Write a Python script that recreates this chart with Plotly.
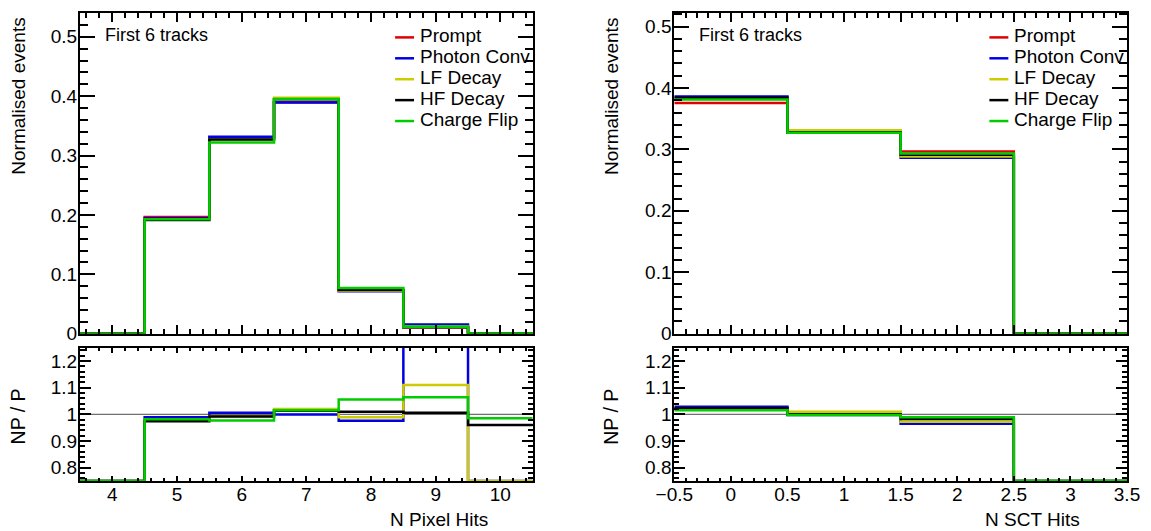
import numpy as np
import plotly.graph_objects as go

# ---- data -----------------------------------------------------------------
series_names = ["Prompt", "Photon Conv", "LF Decay", "HF Decay", "Charge Flip"]
series_colors = ["#e00000", "#0000e0", "#cccc00", "#000000", "#00cc00"]

# N Pixel Hits (bin centres) and normalised yields per category
pixel_hits = [4, 5, 6, 7, 8, 9, 10]
pixel_prompt = [0.0, 0.1965, 0.3295, 0.3895, 0.0730, 0.0107, 0.0004]
pixel_photon_conv = [0.0, 0.1943, 0.3315, 0.3891, 0.0712, 0.0155, 0.0]
pixel_lf_decay = [0.0, 0.1924, 0.3272, 0.3973, 0.0722, 0.01187, 0.0]
pixel_hf_decay = [0.0, 0.1914, 0.3269, 0.3946, 0.07366, 0.01076, 0.000384]
pixel_charge_flip = [0.0, 0.1928, 0.3219, 0.3953, 0.07702, 0.01138, 0.000394]

# N SCT Hits (bin centres) and normalised yields per category
sct_hits = [0, 1, 2, 3]
sct_prompt = [0.3755, 0.3280, 0.2967, 0.0]
sct_photon_conv = [0.3860, 0.3270, 0.2863, 0.0]
sct_lf_decay = [0.3823, 0.3310, 0.2884, 0.0]
sct_hf_decay = [0.3841, 0.3280, 0.2914, 0.0]
sct_charge_flip = [0.3811, 0.3270, 0.2934, 0.0]

pixel_series = [pixel_prompt, pixel_photon_conv, pixel_lf_decay,
                pixel_hf_decay, pixel_charge_flip]
sct_series = [sct_prompt, sct_photon_conv, sct_lf_decay,
              sct_hf_decay, sct_charge_flip]

label_text = "First 6 tracks"
ratio_range = [0.75, 1.25]

# ---- helpers --------------------------------------------------------------
FONT = "Liberation Sans, Arial, Helvetica, sans-serif"
W, H = 1151, 531
ML, MR, MT, MB = 80, 21, 11, 50
PW, PH = W - ML - MR, H - MT - MB  # plotting region in px


def px_x(px):
    return (px - ML) / PW


def px_y(py):
    return (H - MB - py) / PH


def step_xy(centres, values):
    c = np.asarray(centres, dtype=float)
    edges = np.append(c - 0.5, c[-1] + 0.5)
    vals = list(values) + [values[-1]]
    return edges, vals


def ratio_of(num, den):
    num = np.asarray(num, dtype=float)
    den = np.asarray(den, dtype=float)
    r = np.divide(num, den, out=np.zeros_like(num), where=den > 0)
    # empty bins sit on the lower frame edge
    return np.clip(r, ratio_range[0], None)


fig = go.Figure()

panels = [
    dict(centres=pixel_hits, series=pixel_series, xa="x", ya="y", rxa="x3", rya="y3"),
    dict(centres=sct_hits, series=sct_series, xa="x2", ya="y2", rxa="x4", rya="y4"),
]

for p in panels:
    # reference line at unity in the ratio pad
    fig.add_shape(type="line", xref=f"{p['rxa']} domain", yref=p["rya"],
                  x0=0, x1=1, y0=1, y1=1, layer="below",
                  line=dict(color="#707070", width=1.3))
    for name, color, vals in zip(series_names, series_colors, p["series"]):
        xs, ys = step_xy(p["centres"], vals)
        fig.add_trace(go.Scatter(x=xs, y=ys, mode="lines", line_shape="hv",
                                 line=dict(color=color, width=2.5),
                                 xaxis=p["xa"], yaxis=p["ya"], name=name,
                                 showlegend=False, hoverinfo="skip"))
    prompt = p["series"][0]
    for name, color, vals in list(zip(series_names, series_colors, p["series"]))[1:]:
        xs, ys = step_xy(p["centres"], list(ratio_of(vals, prompt)))
        fig.add_trace(go.Scatter(x=xs, y=ys, mode="lines", line_shape="hv",
                                 line=dict(color=color, width=2.5),
                                 xaxis=p["rxa"], yaxis=p["rya"], name=name,
                                 showlegend=False, hoverinfo="skip"))

# ---- axes -----------------------------------------------------------------
left_dom = [0, px_x(534)]
right_dom = [px_x(676), 1]
top_dom = [px_y(333), 1]
ratio_dom = [0, px_y(347)]

common = dict(showline=True, linecolor="black", linewidth=2, mirror="ticks",
              ticks="inside", tickcolor="black", tickwidth=2,
              showgrid=False, zeroline=False,
              tickfont=dict(family=FONT, size=19, color="black"))


def xax(dom, anchor, rng, dtick, minor, showlabels, ticklen, minorlen, tick0=0):
    return dict(common, domain=dom, anchor=anchor, range=rng, tick0=tick0,
                dtick=dtick, showticklabels=showlabels, ticklen=ticklen,
                ticklabelstandoff=-5,
                minor=dict(dtick=minor, ticks="inside", ticklen=minorlen,
                           tickcolor="black", tickwidth=2, showgrid=False))


def yax(dom, anchor, rng, dtick, minor, ticklen, minorlen):
    return dict(common, domain=dom, anchor=anchor, range=rng, tick0=0,
                dtick=dtick, ticklen=ticklen, ticklabelstandoff=-3,
                minor=dict(dtick=minor, ticks="inside", ticklen=minorlen,
                           tickcolor="black", tickwidth=2, showgrid=False))


fig.update_layout(
    xaxis=xax(left_dom, "y", [3.5, 10.5], 1, 0.2, False, 9, 5),
    yaxis=yax(top_dom, "x", [0, 0.54], 0.1, 0.02, 15, 8),
    xaxis2=xax(right_dom, "y2", [-0.5, 3.5], 0.5, 0.1, False, 9, 5, tick0=-0.5),
    yaxis2=yax(top_dom, "x2", [0, 0.522], 0.1, 0.02, 15, 8),
    xaxis3=xax(left_dom, "y3", [3.5, 10.5], 1, 0.2, True, 5, 3),
    yaxis3=yax(ratio_dom, "x3", ratio_range, 0.1, 0.02, 11, 5),
    xaxis4=xax(right_dom, "y4", [-0.5, 3.5], 0.5, 0.1, True, 5, 3, tick0=-0.5),
    yaxis4=yax(ratio_dom, "x4", ratio_range, 0.1, 0.02, 11, 5),
)

# ---- text, legends --------------------------------------------------------
ann = []
shapes_extra = []
legend_rows = [35.5, 56.5, 77.5, 98.5, 119.5]

for xa, ya, xt_left, xtitle, xtitle_right in [
    ("x", "y", 18, "N Pixel Hits", 491),
    ("x2", "y2", 613, "N SCT Hits", 1085),
]:
    dom_l = left_dom[0] if xa == "x" else right_dom[0]
    frame_left = ML + dom_l * PW
    ann.append(dict(text=label_text, xref="paper", yref="paper",
                    x=px_x(frame_left + 23), y=px_y(33), xanchor="left",
                    yanchor="middle", showarrow=False,
                    font=dict(family=FONT, size=18, color="black")))
    for row, name, color in zip(legend_rows, series_names, series_colors):
        shapes_extra.append(dict(type="line", xref="paper", yref="paper",
                                 x0=px_x(frame_left + 316), x1=px_x(frame_left + 335),
                                 y0=px_y(row), y1=px_y(row),
                                 line=dict(color=color, width=2.5)))
        ann.append(dict(text=name, xref="paper", yref="paper",
                        x=px_x(frame_left + 339), y=px_y(row - 1.5),
                        xanchor="left", yanchor="middle", showarrow=False,
                        font=dict(family=FONT, size=19, color="black")))
    ann.append(dict(text="Normalised events", xref="paper", yref="paper",
                    x=px_x(xt_left), y=px_y(14), xanchor="center", yanchor="top",
                    textangle=-90, showarrow=False,
                    font=dict(family=FONT, size=19, color="black")))
    ann.append(dict(text="NP / P", xref="paper", yref="paper",
                    x=px_x(xt_left), y=px_y(416), xanchor="center",
                    yanchor="middle", textangle=-90, showarrow=False,
                    font=dict(family=FONT, size=19.5, color="black")))
    ann.append(dict(text=xtitle, xref="paper", yref="paper",
                    x=px_x(xtitle_right), y=px_y(520), xanchor="right",
                    yanchor="middle", showarrow=False,
                    font=dict(family=FONT, size=19, color="black")))

fig.update_layout(
    width=W, height=H,
    margin=dict(l=ML, r=MR, t=MT, b=MB),
    paper_bgcolor="white", plot_bgcolor="white",
    annotations=ann,
    shapes=list(fig.layout.shapes) + shapes_extra,
    showlegend=False,
)

fig.write_html("out.html")
